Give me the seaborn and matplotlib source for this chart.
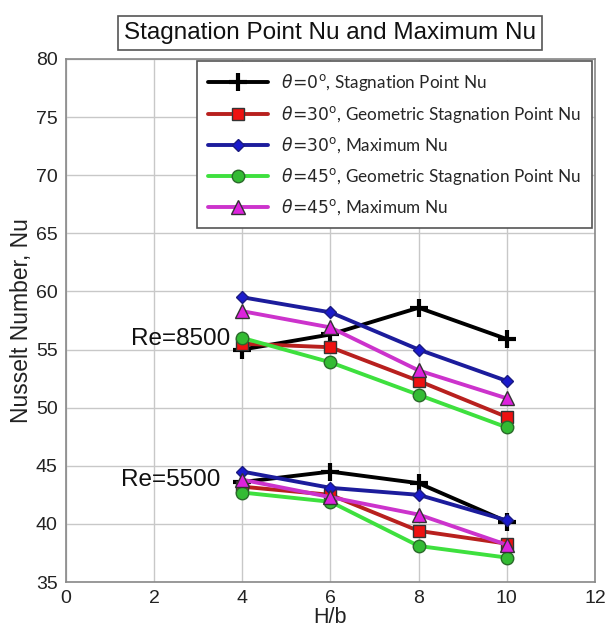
import matplotlib
matplotlib.use("Agg")
import matplotlib.pyplot as plt
import seaborn as sns
import pandas as pd
from matplotlib.lines import Line2D

# H/b spacing values
h_b = [4, 6, 8, 10]

# Re = 8500
nu_8500_theta0_stag = [55.0, 56.3, 58.6, 55.9]
nu_8500_theta30_geo = [55.5, 55.2, 52.3, 49.2]
nu_8500_theta30_max = [59.5, 58.2, 55.0, 52.3]
nu_8500_theta45_geo = [56.0, 53.9, 51.1, 48.3]
nu_8500_theta45_max = [58.3, 56.9, 53.2, 50.8]

# Re = 5500
nu_5500_theta0_stag = [43.6, 44.5, 43.5, 40.2]
nu_5500_theta30_geo = [43.2, 42.5, 39.4, 38.3]
nu_5500_theta30_max = [44.5, 43.1, 42.5, 40.3]
nu_5500_theta45_geo = [42.7, 41.9, 38.1, 37.1]
nu_5500_theta45_max = [43.8, 42.3, 40.8, 38.2]

series_labels = [
    r"$\theta\!=\!0^{\mathrm{o}}$, Stagnation Point Nu",
    r"$\theta\!=\!30^{\mathrm{o}}$, Geometric Stagnation Point Nu",
    r"$\theta\!=\!30^{\mathrm{o}}$, Maximum Nu",
    r"$\theta\!=\!45^{\mathrm{o}}$, Geometric Stagnation Point Nu",
    r"$\theta\!=\!45^{\mathrm{o}}$, Maximum Nu",
]
series_8500 = [nu_8500_theta0_stag, nu_8500_theta30_geo, nu_8500_theta30_max,
               nu_8500_theta45_geo, nu_8500_theta45_max]
series_5500 = [nu_5500_theta0_stag, nu_5500_theta30_geo, nu_5500_theta30_max,
               nu_5500_theta45_geo, nu_5500_theta45_max]

line_colors = ["#000000", "#b8201e", "#1c1c9c", "#3ee03e", "#cc33cc"]
face_colors = ["#000000", "#ee1111", "#1a1acc", "#33bb33", "#dd22dd"]
markers = ["+", "s", "D", "o", "^"]
marker_sizes = [13, 9, 6.5, 9, 10]
edge_widths = [3.0, 1.0, 1.0, 1.0, 1.0]
edge_colors = ["#000000", "#333333", "#1a1a80", "#2a6a2a", "#333333"]

rows = []
for lab, s85, s55 in zip(series_labels, series_8500, series_5500):
    for h, v in zip(h_b, s85):
        rows.append({"H/b": h, "Nu": v, "series": lab, "Re": 8500})
    for h, v in zip(h_b, s55):
        rows.append({"H/b": h, "Nu": v, "series": lab, "Re": 5500})
df = pd.DataFrame(rows)

sns.set_style("whitegrid")
plt.rcParams["font.family"] = ["Liberation Sans", "DejaVu Sans"]
plt.rcParams["mathtext.fontset"] = "dejavusans"

fig = plt.figure(figsize=(6.07, 6.39), dpi=100)
ax = fig.add_axes([0.1087, 0.0892, 0.8715, 0.8185])

for i, lab in enumerate(series_labels):
    for re in (8500, 5500):
        sub = df[(df["series"] == lab) & (df["Re"] == re)]
        sns.lineplot(data=sub, x="H/b", y="Nu", ax=ax, color=line_colors[i],
                     linewidth=2.8, marker=markers[i], markersize=marker_sizes[i],
                     markerfacecolor=face_colors[i],
                     markeredgecolor=edge_colors[i],
                     markeredgewidth=edge_widths[i],
                     estimator=None, legend=False, zorder=3 + i)

ax.set_xlim(0, 12)
ax.set_ylim(35, 80)
ax.set_xticks(range(0, 13, 2))
ax.set_yticks(range(35, 81, 5))
ax.grid(True, color="#c8c8c8", linewidth=1.0)
for sp in ax.spines.values():
    sp.set_color("#888888")
    sp.set_linewidth(1.2)
ax.tick_params(axis="both", labelsize=14, colors="#222222", length=0, pad=6)
ax.set_xlabel("H/b", fontsize=15.5, labelpad=0, color="#222222")
ax.set_ylabel("Nusselt Number, Nu", fontsize=16.5, labelpad=2, color="#222222")

ax.text(2.59, 55.9, "Re=8500", fontsize=17.5, ha="center", va="center",
        color="#111111")
ax.text(2.38, 43.8, "Re=5500", fontsize=17.5, ha="center", va="center",
        color="#111111")

handles = [Line2D([0], [0], color=line_colors[i], linewidth=2.8, marker=markers[i],
                  markersize=marker_sizes[i], markerfacecolor=face_colors[i],
                  markeredgecolor=edge_colors[i], markeredgewidth=edge_widths[i])
           for i in range(len(series_labels))]
leg = ax.legend(handles, series_labels, loc="upper right", bbox_to_anchor=(1.011, 1.012),
                frameon=True, fancybox=False, handlelength=3.5,
                borderpad=0.65, labelspacing=0.62, handletextpad=0.8,
                prop={"family": ["Lato", "DejaVu Sans"], "size": 12.3})
leg.get_frame().set_edgecolor("#555555")
leg.get_frame().set_linewidth(1.2)
leg.get_frame().set_alpha(1.0)
leg.set_zorder(20)

fig.text(0.543, 0.948, "Stagnation Point Nu and Maximum Nu", fontsize=17.5,
         ha="center", va="center", color="#111111",
         bbox=dict(boxstyle="square,pad=0.25", facecolor="white",
                   edgecolor="#555555", linewidth=1.2))

fig.savefig("out.png", dpi=100)
